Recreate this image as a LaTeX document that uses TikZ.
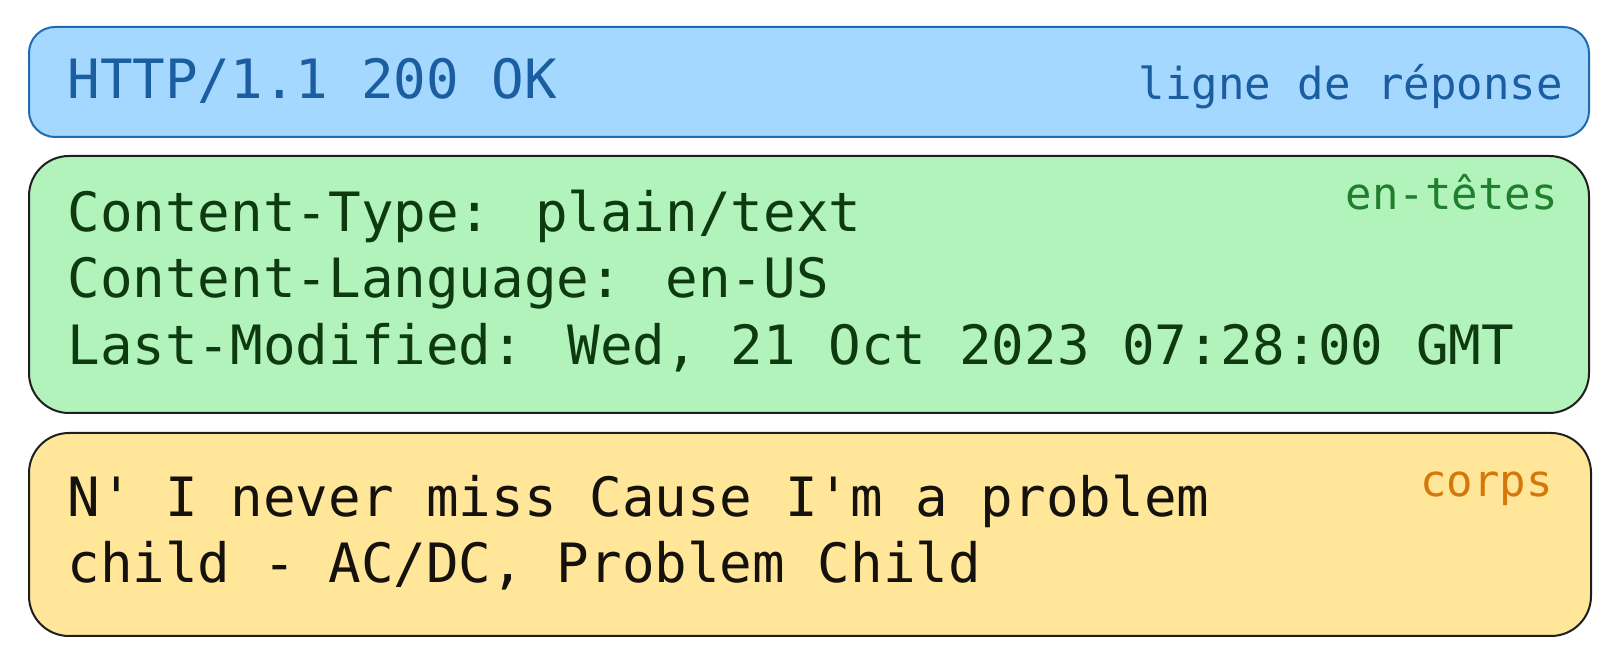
\documentclass[tikz,border=0pt]{standalone}
\usepackage{fontspec}
\newfontfamily\codefont{DejaVu Sans Mono}
\usetikzlibrary{positioning}

\definecolor{statusfill}{HTML}{A5D8FF}
\definecolor{statusdraw}{HTML}{1F6AB0}
\definecolor{statustext}{HTML}{1A5DA0}
\definecolor{headfill}{HTML}{B2F2BB}
\definecolor{headtext}{HTML}{0D3A10}
\definecolor{headlabel}{HTML}{1E7F2C}
\definecolor{bodyfill}{HTML}{FFE699}
\definecolor{bodytext}{HTML}{15110D}
\definecolor{bodylabel}{HTML}{D4780A}
\definecolor{sketch}{HTML}{1E1E1E}

\tikzset{
    part/.style={draw=sketch, line width=1pt, rounded corners=20pt, anchor=north west, inner sep=0pt},
    codeline/.style={anchor=base west, inner sep=0pt, font=\codefont\fontsize{27.1pt}{33pt}\selectfont},
    partlabel/.style={anchor=base east, inner sep=0pt, font=\codefont\fontsize{22pt}{26pt}\selectfont}
}

\begin{document}
\begin{tikzpicture}[x=0.5pt, y=-0.5pt]
    \useasboundingbox (0, 0) rectangle (1608, 656);

    % the three parts of the response
    \node[part, draw=statusdraw, fill=statusfill, rounded corners=13pt, minimum width=780pt, minimum height=55pt] (status) at (28, 26) {};
    \node[part, fill=headfill, minimum width=780pt, minimum height=128.5pt] (headers) at (28, 155) {};
    \node[part, fill=bodyfill, minimum width=781pt, minimum height=101.5pt] (body) at (28, 432) {};

    % status line
    \node[codeline, text=statustext] (statusline) at (67, 99) {HTTP/1.1 200 OK};
    \node[partlabel, text=statustext] (statuslabel) at (1563, 100) {ligne de réponse};

    % headers
    \node[codeline, text=headtext] (hdrtype) at (67, 232) {Content-Type: plain/text};
    \node[codeline, text=headtext] (hdrlang) at (67, 298) {Content-Language: en-US};
    \node[codeline, text=headtext] (hdrdate) at (67, 365) {Last-Modified: Wed, 21 Oct 2023 07:28:00 GMT};
    \node[partlabel, text=headlabel] (headlabel) at (1558, 210) {en-têtes};

    % body
    \node[codeline, text=bodytext] (bodyone) at (67, 517) {N' I never miss Cause I'm a problem};
    \node[codeline, text=bodytext] (bodytwo) at (67, 583) {child - AC/DC, Problem Child};
    \node[partlabel, text=bodylabel] (bodylabel) at (1553, 497) {corps};
\end{tikzpicture}
\end{document}
